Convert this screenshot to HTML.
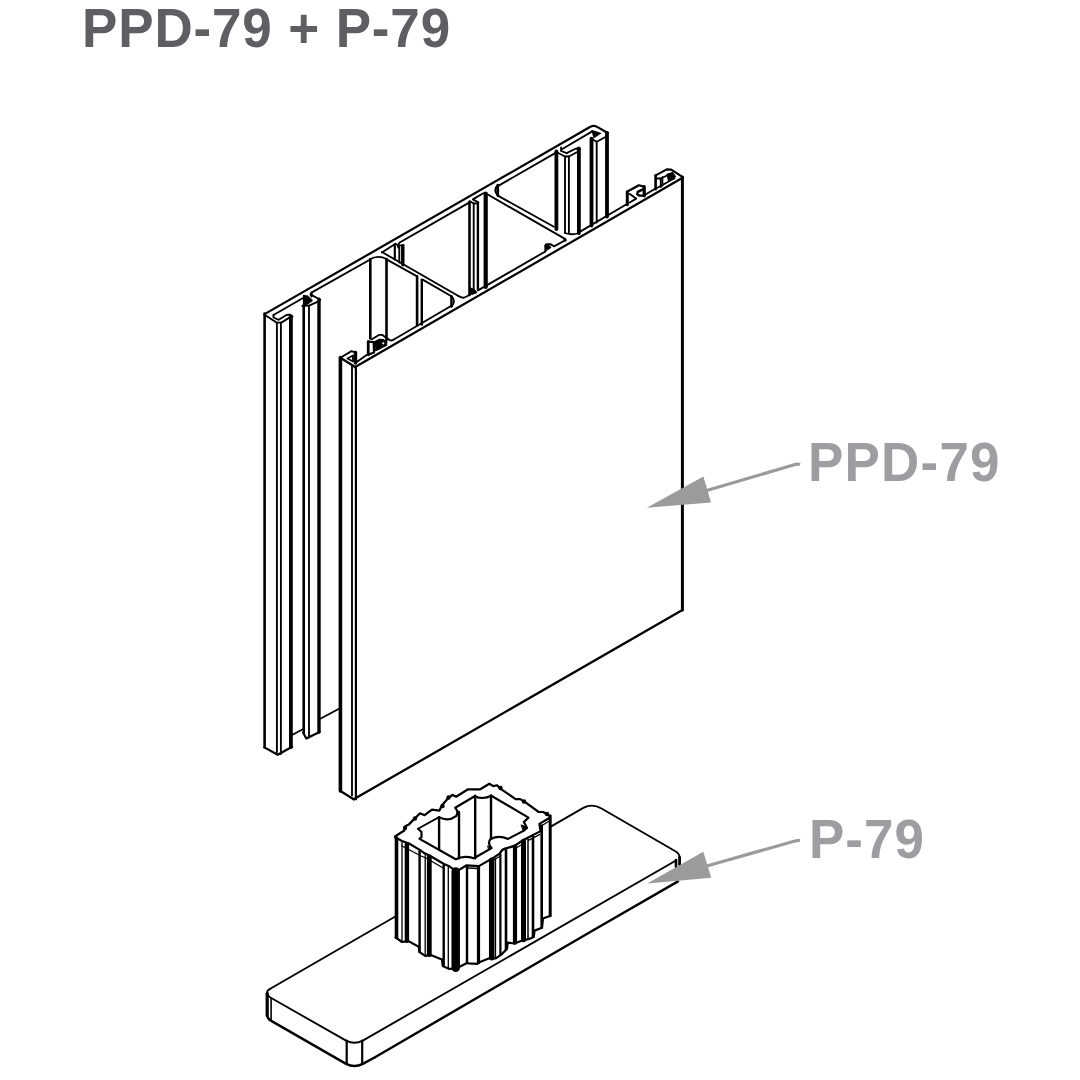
<!DOCTYPE html>
<html><head><meta charset="utf-8"><style>
html,body{margin:0;padding:0;background:#fff;width:1080px;height:1080px;overflow:hidden}
.t{position:absolute;transform-origin:0 0;transform:scaleY(1.05);font-family:"Liberation Sans",sans-serif;font-weight:bold;white-space:nowrap;line-height:1}
svg{position:absolute;left:0;top:0}
</style></head><body>
<svg width="1080" height="1080" viewBox="0 0 1080 1080">
<g stroke="#000" fill="none" stroke-linecap="round" stroke-linejoin="round">
<path d="M264.6,314.1 L589.5,127.3 Q593.7,124.6 598,127.4 L607.8,133" stroke-width="2.2" fill="none"/>
<line x1="264.6" y1="313.5" x2="264.6" y2="747.4" stroke-width="2.6"/>
<polyline points="264.6,314.8 276.5,322.6 281.3,322.6 289.8,317.4 291.0,317.0" stroke-width="1.85" fill="none"/>
<line x1="276.9" y1="322.6" x2="276.9" y2="752.5" stroke-width="1.85"/>
<line x1="280.9" y1="322.6" x2="280.9" y2="754.0" stroke-width="1.85"/>
<line x1="290.9" y1="316.3" x2="290.9" y2="747.0" stroke-width="3.8"/>
<polyline points="273.5,314.8 273.5,317.5 278.7,319.8 286.5,315.0 289.8,314.6 292.5,316.5" stroke-width="1.85" fill="none"/>
<polyline points="264.4,747.4 277.7,754.8 292.2,746.7" stroke-width="2.2" fill="none"/>
<line x1="273.5" y1="315.0" x2="303.9" y2="297.5" stroke-width="1.85"/>
<line x1="303.7" y1="305.2" x2="303.7" y2="733.0" stroke-width="2.6"/>
<line x1="309.0" y1="305.6" x2="309.0" y2="737.5" stroke-width="1.85"/>
<line x1="319.0" y1="299.3" x2="319.0" y2="732.0" stroke-width="3.4"/>
<polygon points="304.1,295.9 307.4,295.9 312.2,300.4 307.4,304.1 304.5,305.5" stroke-width="1.2" fill="#000"/>
<line x1="304.1" y1="295.9" x2="304.1" y2="306.0" stroke-width="2.4"/>
<polyline points="302.2,305.8 309.0,305.6 317.4,301.9" stroke-width="1.85" fill="none"/>
<path d="M311.9,292.2 Q309.3,294.3 311.6,296.6 Z" stroke-width="1.8" fill="#000"/>
<line x1="312.2" y1="295.4" x2="320.3" y2="299.8" stroke-width="1.85"/>
<polyline points="303.3,733.0 306.3,738.5 319.6,731.9" stroke-width="2.2" fill="none"/>
<line x1="292.5" y1="734.8" x2="303.3" y2="729.0" stroke-width="1.85"/>
<line x1="320.8" y1="718.5" x2="340.4" y2="708.0" stroke-width="1.85"/>
<line x1="311.9" y1="292.4" x2="369.8" y2="259.7" stroke-width="1.85"/>
<path d="M369.8,259.4 Q378,254.5 386.5,259" stroke-width="1.85" fill="none"/>
<line x1="370.3" y1="259.4" x2="370.3" y2="338.5" stroke-width="2.6"/>
<line x1="386.5" y1="259.0" x2="386.5" y2="340.0" stroke-width="2.6"/>
<polyline points="381.9,252.5 395.5,243.8 398.5,245.6" stroke-width="1.85" fill="none"/>
<line x1="403.1" y1="245.3" x2="403.1" y2="265.0" stroke-width="2.8"/>
<line x1="399.5" y1="245.3" x2="403.1" y2="245.3" stroke-width="1.85"/>
<line x1="394.8" y1="244.5" x2="394.8" y2="259.5" stroke-width="2.2"/>
<line x1="399.3" y1="246.0" x2="399.3" y2="262.5" stroke-width="1.85"/>
<line x1="399.3" y1="242.7" x2="469.1" y2="202.6" stroke-width="1.85"/>
<path d="M399.3,243.5 Q396.5,245.5 398.5,248" stroke-width="1.6" fill="none"/>
<line x1="381.9" y1="252.0" x2="458.0" y2="295.8" stroke-width="1.85"/>
<path d="M458,295.8 Q462,298.4 464.5,297.5 L469.5,295" stroke-width="1.85" fill="none"/>
<line x1="387.4" y1="259.9" x2="417.1" y2="276.4" stroke-width="1.85"/>
<line x1="422.7" y1="279.6" x2="451.4" y2="296.3" stroke-width="1.85"/>
<line x1="402.3" y1="246.0" x2="402.3" y2="264.8" stroke-width="2.4"/>
<line x1="417.1" y1="276.4" x2="417.1" y2="325.5" stroke-width="2.6"/>
<line x1="421.8" y1="279.6" x2="421.8" y2="324.5" stroke-width="2.4"/>
<path d="M451.4,296.3 Q456.5,301 451.4,306.5" stroke-width="1.85" fill="none"/>
<line x1="451.4" y1="296.3" x2="451.4" y2="306.5" stroke-width="2.4"/>
<line x1="469.5" y1="202.0" x2="469.5" y2="295.0" stroke-width="2.6"/>
<line x1="473.7" y1="204.0" x2="473.7" y2="289.5" stroke-width="1.85"/>
<line x1="477.9" y1="203.0" x2="477.9" y2="289.5" stroke-width="2.4"/>
<polygon points="470.5,288.0 474.5,289.5 477.0,292.5 472.0,294.5 470.5,294.0" stroke-width="1" fill="#000"/>
<line x1="485.7" y1="193.7" x2="485.7" y2="287.0" stroke-width="4.2"/>
<polyline points="469.7,201.1 472.8,203.0 476.7,203.6 478.3,202.5" stroke-width="1.85" fill="none"/>
<polyline points="478.3,202.2 472.8,199.4 483.3,193.2" stroke-width="1.85" fill="none"/>
<path d="M497.8,185 Q492.5,190 497.8,195.6 Z" stroke-width="1.8" fill="#888"/>
<line x1="497.8" y1="185.0" x2="497.8" y2="195.6" stroke-width="2.6"/>
<line x1="497.8" y1="186.1" x2="555.6" y2="152.9" stroke-width="1.85"/>
<line x1="485.6" y1="193.3" x2="565.0" y2="238.9" stroke-width="1.85"/>
<line x1="497.8" y1="195.6" x2="553.9" y2="226.7" stroke-width="1.85"/>
<polyline points="565.2,240.2 554.1,246.4 550.4,244.1 546.2,244.1 545.3,245.9 545.3,251.5" stroke-width="1.85" fill="none"/>
<polygon points="545.3,245.0 549.0,245.2 551.0,247.5 546.5,250.5" stroke-width="1" fill="#000"/>
<circle cx="565" cy="240" r="1.8" fill="#000" stroke="none"/>
<line x1="556.4" y1="151.5" x2="556.4" y2="229.0" stroke-width="3.8"/>
<line x1="565.0" y1="156.5" x2="565.0" y2="233.0" stroke-width="1.85"/>
<line x1="568.9" y1="156.5" x2="568.9" y2="233.0" stroke-width="1.85"/>
<line x1="578.9" y1="148.5" x2="578.9" y2="233.0" stroke-width="3.8"/>
<path d="M565,233 Q572,235.5 579,233" stroke-width="1.85" fill="none"/>
<polyline points="556.3,152.0 565.0,156.5 569.0,156.5 579.0,151.0" stroke-width="1.85" fill="none"/>
<polyline points="561.1,147.5 561.1,151.0 566.7,153.2 576.0,148.5 580.0,149.3" stroke-width="1.85" fill="none"/>
<line x1="561.1" y1="149.7" x2="592.2" y2="131.4" stroke-width="1.85"/>
<line x1="591.5" y1="138.7" x2="591.5" y2="225.5" stroke-width="3.8"/>
<line x1="596.7" y1="141.7" x2="596.7" y2="222.5" stroke-width="1.85"/>
<line x1="607.0" y1="132.8" x2="607.0" y2="216.6" stroke-width="3.8"/>
<polygon points="592.0,130.5 600.5,133.2 594.0,137.5" stroke-width="1.2" fill="#000"/>
<polyline points="591.5,138.7 596.7,141.7 605.5,137.0 607.0,136.0" stroke-width="1.85" fill="none"/>
<line x1="340.4" y1="357.5" x2="340.4" y2="791.0" stroke-width="3.6"/>
<line x1="340.4" y1="357.8" x2="354.8" y2="366.7" stroke-width="2.2"/>
<line x1="352.0" y1="366.0" x2="352.0" y2="795.5" stroke-width="1.85"/>
<line x1="355.9" y1="367.0" x2="355.9" y2="799.3" stroke-width="2.2"/>
<line x1="354.8" y1="367.3" x2="682.6" y2="177.8" stroke-width="2.2"/>
<line x1="682.4" y1="177.0" x2="682.4" y2="610.0" stroke-width="3"/>
<line x1="682.4" y1="610.0" x2="353.7" y2="799.3" stroke-width="2.3"/>
<line x1="340.4" y1="791.0" x2="353.7" y2="799.3" stroke-width="2.2"/>
<line x1="356.0" y1="362.5" x2="367.0" y2="354.8" stroke-width="1.85"/>
<line x1="374.1" y1="350.7" x2="380.4" y2="348.1" stroke-width="1.85"/>
<path d="M371.9,339.3 L379.3,334.8 L382.2,334.8 L385.6,337.4 L390,340.2 Q391.5,340.8 393,340" stroke-width="1.85" fill="none"/>
<line x1="393.0" y1="340.0" x2="451.4" y2="305.7" stroke-width="1.85"/>
<line x1="478.0" y1="290.4" x2="545.3" y2="251.5" stroke-width="1.85"/>
<line x1="578.0" y1="232.9" x2="627.4" y2="203.8" stroke-width="1.85"/>
<polyline points="340.4,357.8 351.5,351.1 355.9,352.6 355.9,363.0" stroke-width="1.85" fill="none"/>
<polyline points="347.5,358.5 353.0,355.5 353.0,361.5 347.5,358.5" stroke-width="1.85" fill="none"/>
<line x1="355.5" y1="352.5" x2="355.5" y2="363.0" stroke-width="3.4"/>
<polygon points="367.9,341.5 373.7,342.2 374.0,352.5 368.0,354.8" stroke-width="2.2" fill="none"/>
<line x1="368.3" y1="341.5" x2="368.3" y2="355.0" stroke-width="2.6"/>
<polygon points="374.0,343.0 380.0,339.8 383.0,340.0 386.7,342.5 386.7,345.5 381.0,348.1 376.0,350.5" stroke-width="1" fill="#000"/>
<circle cx="383.3" cy="343.3" r="1.1" fill="#fff" stroke="none"/>
<polyline points="373.5,342.5 379.5,339.6 383.0,339.8 386.7,342.3" stroke-width="1.8" fill="none"/>
<line x1="627.3" y1="191.8" x2="627.3" y2="204.7" stroke-width="3"/>
<polyline points="627.1,191.8 638.8,185.3 644.0,186.6" stroke-width="2.2" fill="none"/>
<line x1="644.2" y1="186.6" x2="644.2" y2="195.8" stroke-width="3.2"/>
<polyline points="644.0,188.8 637.8,191.8 637.2,194.3 639.5,195.6 644.5,195.6" stroke-width="2.4" fill="none"/>
<polyline points="629.7,193.9 636.2,198.6 629.7,202.5" stroke-width="1.85" fill="none"/>
<line x1="644.6" y1="195.0" x2="655.6" y2="188.5" stroke-width="1.85"/>
<line x1="655.6" y1="175.6" x2="655.6" y2="189.2" stroke-width="2.6"/>
<polyline points="655.3,175.6 666.7,169.4 671.2,169.7 682.8,177.2" stroke-width="2.2" fill="none"/>
<polyline points="657.0,178.5 661.0,178.5 667.0,175.5" stroke-width="1.8" fill="none"/>
<line x1="660.8" y1="178.5" x2="660.8" y2="187.0" stroke-width="1.85"/>
<polyline points="662.5,176.8 662.5,185.8" stroke-width="1.6" fill="none"/>
<polygon points="667.0,174.2 672.5,172.5 675.5,176.5 668.5,180.5" stroke-width="1.2" fill="#000"/>
<line x1="657.0" y1="188.0" x2="674.5" y2="178.2" stroke-width="1.85"/>
<path d="M269.4,989.3 L583.3,807.9 Q592.4,803 601.5,808.5 L674.5,850.8 Q679.6,853.5 679.6,857.5" stroke-width="1.85" fill="none"/>
<path d="M267.2,993.8 Q266.5,990.5 269.4,989.3" stroke-width="1.85" fill="none"/>
<path d="M267.2,993.3 Q268.5,997 271.7,998.3 L346.1,1040.6 Q354.4,1045 362.8,1040.6 L676,860.5" stroke-width="1.85" fill="none"/>
<line x1="267.2" y1="993.3" x2="267.2" y2="1015.6" stroke-width="3.2"/>
<path d="M267.2,1015.6 Q268,1019.5 271.7,1021.1 L346.1,1063.9 Q354.4,1068 362.8,1063.9 L375,1057.2" stroke-width="2.4" fill="none"/>
<line x1="271.1" y1="998.5" x2="271.1" y2="1020.5" stroke-width="1.6"/>
<line x1="346.7" y1="1040.6" x2="346.7" y2="1062.8" stroke-width="2.2"/>
<line x1="362.2" y1="1040.6" x2="362.2" y2="1062.8" stroke-width="2.2"/>
<line x1="375.0" y1="1057.2" x2="593.7" y2="930.0" stroke-width="2.4"/>
<line x1="678.0" y1="881.4" x2="593.7" y2="930.0" stroke-width="2.4"/>
<line x1="679.6" y1="857.5" x2="679.6" y2="864.5" stroke-width="2.8"/>
<line x1="676.0" y1="860.0" x2="676.0" y2="867.0" stroke-width="2.6"/>
<polygon points="395.6,838.0 395.0,836.5 404.3,830.5 405.2,826.3 408.9,824.4 414.4,818.9 420.0,813.3 424.6,815.2 432.0,809.6 439.4,810.6 442.2,805.0 448.7,797.6 452.4,794.8 456.1,796.7 468.1,789.3 480.2,789.3 489.4,783.7 493.3,786.1 497.0,785.2 500.7,788.9 515.6,799.1 520.2,799.1 524.8,801.9 538.7,812.0 543.3,812.0 548.9,815.7 550.4,915.7 543.0,918.5 542.0,927.8 534.6,930.6 533.7,937.0 529.1,938.9 521.7,940.7 514.3,943.5 507.8,942.6 506.9,949.0 501.3,954.6 495.7,958.3 489.3,958.3 480.0,962.0 477.2,963.9 468.9,963.4 467.0,963.0 459.6,966.7 455.0,968.5 449.3,968.9 442.8,966.1 441.9,959.6 430.7,955.0 425.2,955.9 419.6,952.2 418.7,946.7 408.5,941.1 402.0,942.0 395.6,937.4" stroke="none" fill="#fff"/>
<polyline points="395.6,838.0 395.0,836.5 404.3,830.5 405.2,826.3 408.9,824.4 414.4,818.9 420.0,813.3 424.6,815.2 432.0,809.6 439.4,810.6 442.2,805.0 448.7,797.6 452.4,794.8 456.1,796.7 468.1,789.3 480.2,789.3 489.4,783.7 493.3,786.1 497.0,785.2 500.7,788.9 515.6,799.1 520.2,799.1 524.8,801.9 538.7,812.0 543.3,812.0 548.9,815.7" stroke-width="2.2" fill="none"/>
<circle cx="405" cy="828" r="2.2" fill="#000" stroke="none"/>
<circle cx="415" cy="818.5" r="2.2" fill="#000" stroke="none"/>
<circle cx="442.5" cy="806" r="2.2" fill="#000" stroke="none"/>
<circle cx="448.5" cy="797.5" r="2.2" fill="#000" stroke="none"/>
<circle cx="500.5" cy="788" r="2.2" fill="#000" stroke="none"/>
<circle cx="524" cy="801.5" r="2.2" fill="#000" stroke="none"/>
<circle cx="547" cy="814" r="2.2" fill="#000" stroke="none"/>
<line x1="396.5" y1="838.0" x2="396.5" y2="937.4" stroke-width="3.6"/>
<line x1="550.2" y1="815.7" x2="550.2" y2="915.7" stroke-width="3"/>
<polyline points="418.0,828.8 439.1,817.1" stroke-width="1.85" fill="none"/>
<path d="M439.1,817.1 Q448,822 456.1,816.1 Q459,812 455.2,807.8 L474.6,796.2 Q483,800 491.3,795.7 L528.5,817.6 L523.9,822 L527,828 L523.9,830.6 L508.1,838.9 Q499,835 490.6,838.9 Q487,843 491.5,848.1 L473.9,858.3 Q464,855 455.7,859.3 L419.6,838.9 L421.5,837 L421.5,832 L418,828.8" stroke-width="2.2" fill="none"/>
<polygon points="521.5,825.0 527.5,827.5 523.5,830.5" stroke-width="1" fill="#000"/>
<polygon points="488.0,846.0 492.0,848.0 489.0,850.0" stroke-width="1" fill="#000"/>
<line x1="439.1" y1="817.1" x2="439.1" y2="849.5" stroke-width="2.4"/>
<line x1="459.0" y1="812.0" x2="459.0" y2="858.3" stroke-width="2.4"/>
<line x1="475.2" y1="795.8" x2="475.2" y2="858.3" stroke-width="2.4"/>
<line x1="491.0" y1="795.4" x2="491.0" y2="838.9" stroke-width="2.4"/>
<polyline points="396.7,838.1 402.0,841.0 409.0,843.5 421.0,850.6 424.0,853.0 429.0,855.2 444.0,864.0 449.3,866.3 453.7,869.3 457.8,870.6 466.7,865.3 478.9,866.1 490.6,859.4 494.4,857.2 500.0,853.3" stroke-width="2.2" fill="none"/>
<path d="M500,853.3 Q501.5,849.5 505,848.6 Q510,847.3 515,845.6" stroke-width="2.2" fill="none"/>
<polyline points="515.0,845.6 523.3,840.0 527.8,837.8 540.6,831.1 539.4,823.9 548.9,818.3" stroke-width="2.2" fill="none"/>
<polyline points="402.0,846.0 421.0,856.0 426.0,858.0 444.0,868.5" stroke-width="1.3" fill="none"/>
<polyline points="468.5,868.0 477.5,868.5" stroke-width="1.3" fill="none"/>
<polyline points="494.0,859.8 500.5,856.0" stroke-width="1.3" fill="none"/>
<polyline points="516.0,848.0 523.0,844.0" stroke-width="1.3" fill="none"/>
<polyline points="528.5,840.3 540.0,834.3" stroke-width="1.3" fill="none"/>
<polyline points="540.0,826.8 548.5,821.5" stroke-width="1.3" fill="none"/>
<polyline points="550.4,915.7 543.0,918.5 542.0,927.8 534.6,930.6 533.7,937.0 529.1,938.9 521.7,940.7 514.3,943.5 507.8,942.6 506.9,949.0 501.3,954.6 495.7,958.3 489.3,958.3 480.0,962.0 477.2,963.9 468.9,963.4 467.0,963.0 459.6,966.7 455.0,968.5 449.3,968.9 442.8,966.1 441.9,959.6 430.7,955.0 425.2,955.9 419.6,952.2 418.7,946.7 408.5,941.1 402.0,942.0 395.6,937.4" stroke-width="2.2" fill="none"/>
<line x1="402.0" y1="842.5" x2="402.0" y2="941.5" stroke-width="1.3"/>
<line x1="406.9" y1="844.2" x2="406.9" y2="940.8" stroke-width="4.4"/>
<line x1="419.6" y1="851.3" x2="419.6" y2="951.7" stroke-width="2.4"/>
<line x1="425.2" y1="855.0" x2="425.2" y2="955.4" stroke-width="1.3"/>
<line x1="429.3" y1="856.9" x2="429.3" y2="954.7" stroke-width="4.8"/>
<line x1="443.7" y1="865.3" x2="443.7" y2="966.0" stroke-width="2.4"/>
<line x1="448.3" y1="867.4" x2="448.3" y2="968.0" stroke-width="1.3"/>
<line x1="455.7" y1="871.5" x2="455.7" y2="967.7" stroke-width="8.5"/>
<line x1="467.0" y1="866.8" x2="467.0" y2="962.5" stroke-width="2.4"/>
<line x1="478.5" y1="867.2" x2="478.5" y2="962.5" stroke-width="3.2"/>
<line x1="491.7" y1="860.2" x2="491.7" y2="957.8" stroke-width="5.5"/>
<line x1="495.5" y1="858.5" x2="495.5" y2="957.8" stroke-width="1.3"/>
<line x1="500.4" y1="854.5" x2="500.4" y2="954.7" stroke-width="2.2"/>
<line x1="506.0" y1="849.5" x2="506.0" y2="949.4" stroke-width="2.6"/>
<line x1="515.0" y1="846.8" x2="515.0" y2="942.7" stroke-width="4.2"/>
<line x1="523.5" y1="841.2" x2="523.5" y2="939.8" stroke-width="5"/>
<line x1="528.0" y1="839.2" x2="528.0" y2="938.7" stroke-width="1.5"/>
<line x1="533.0" y1="836.6" x2="533.0" y2="936.8" stroke-width="2.6"/>
<line x1="541.7" y1="825.5" x2="541.7" y2="927.4" stroke-width="2.6"/>
</g>
<path d="M703.4,476.5 L646.8,507.8 L711,502.4 Z" fill="#9b9b9d"/><path d="M705,491 L795,464.5 Q798,463.8 800,464.5" stroke="#9b9b9d" stroke-width="3.2" fill="none"/><path d="M703.3,851.8 L647.2,883.4 L711.3,877.8 Z" fill="#9b9b9d"/><path d="M705,866.5 L795,841 Q798,840.3 800,840.5" stroke="#9b9b9d" stroke-width="3.2" fill="none"/>
</svg>
<div class="t" style="left:82px;top:0px;font-size:53px;color:#5e5f62;letter-spacing:0.85px">PPD-79 + P-79</div>
<div class="t" style="left:808px;top:434px;font-size:53px;color:#9d9ea1;letter-spacing:1.2px">PPD-79</div>
<div class="t" style="left:809px;top:811px;font-size:53px;color:#9d9ea1;letter-spacing:1px">P-79</div>
</body></html>
